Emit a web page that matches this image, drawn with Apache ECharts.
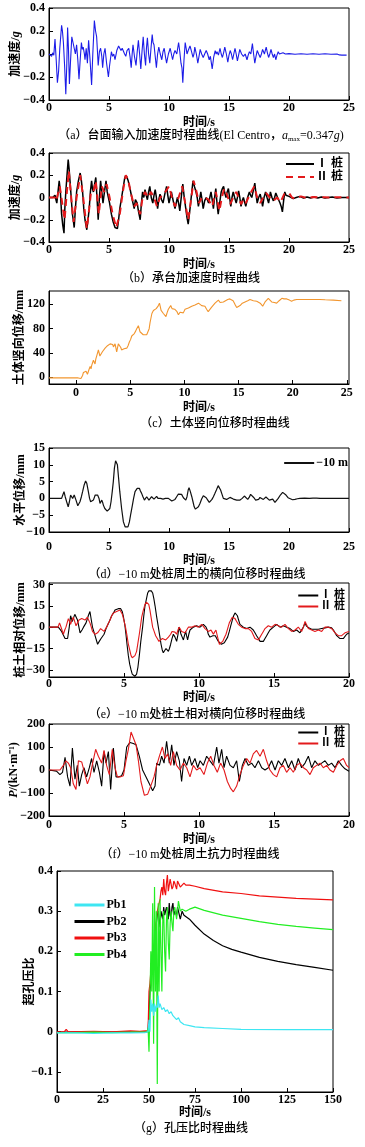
<!DOCTYPE html>
<html><head><meta charset="utf-8">
<script src="https://cdn.jsdelivr.net/npm/echarts@6/dist/echarts.min.js"></script>
<style>html,body{margin:0;padding:0;background:#fff}#c{width:365px;height:1147px}</style>
</head><body><div id="c"></div>
<script>
// ---------------- DATA ----------------
// (a) table input acceleration [t(s), a(g)]
const accInput = [[0,0],[0.15,0.005],[0.22,-0.02],[0.3,0.01],[0.4,-0.01],[0.5,0.13],[0.6,-0.05],[0.7,-0.25],[0.8,-0.15],[0.9,0.05],[1.05,0.25],[1.12,0.2],[1.2,0.1],[1.3,-0.1],[1.4,-0.35],[1.48,-0.1],[1.55,0.23],[1.62,0.05],[1.7,-0.26],[1.8,-0.05],[1.9,0.15],[2.0,0.1],[2.1,0.05],[2.2,0.0],[2.3,0.08],[2.4,-0.05],[2.5,-0.22],[2.6,-0.05],[2.7,0.1],[2.78,0.04],[2.85,0.06],[2.95,0.0],[3.0,-0.05],[3.1,0.05],[3.2,-0.08],[3.3,0.12],[3.42,-0.05],[3.55,-0.27],[3.65,0.0],[3.78,0.29],[3.88,0.2],[3.97,0.15],[4.05,0.0],[4.1,-0.1],[4.2,0.02],[4.3,0.05],[4.4,-0.02],[4.47,-0.12],[4.57,0.0],[4.67,0.05],[4.8,-0.08],[4.95,-0.2],[5.05,-0.1],[5.2,0.02],[5.3,-0.02],[5.4,0.0],[5.5,-0.05],[5.65,0.03],[5.8,0.07],[5.9,0.05],[6.0,0.03],[6.1,0.05],[6.2,0.06],[6.3,0.0],[6.4,-0.02],[6.5,0.03],[6.65,0.05],[6.75,-0.02],[6.85,-0.12],[6.93,0.0],[7.0,0.08],[7.12,-0.02],[7.25,-0.1],[7.35,0.02],[7.45,0.12],[7.55,0.0],[7.65,-0.13],[7.75,0.02],[7.85,0.15],[7.95,0.0],[8.05,-0.1],[8.12,0.05],[8.2,0.14],[8.3,0.0],[8.4,-0.08],[8.5,0.05],[8.6,0.17],[8.67,0.1],[8.75,0.08],[8.85,-0.02],[8.95,-0.12],[9.05,0.0],[9.15,0.06],[9.27,0.0],[9.4,-0.05],[9.5,0.02],[9.6,0.05],[9.7,-0.02],[9.8,-0.08],[9.95,0.0],[10.1,0.05],[10.2,0.0],[10.3,-0.05],[10.4,0.0],[10.5,0.03],[10.65,0.0],[10.8,0.1],[10.9,0.02],[11.0,-0.08],[11.08,-0.12],[11.15,-0.25],[11.25,-0.05],[11.35,0.1],[11.43,0.05],[11.5,0.0],[11.6,0.03],[11.75,0.07],[11.88,0.02],[12.0,-0.03],[12.08,0.0],[12.15,0.06],[12.28,0.0],[12.4,-0.08],[12.5,-0.02],[12.6,0.04],[12.72,0.0],[12.85,-0.03],[12.97,0.0],[13.1,0.03],[13.22,0.0],[13.35,-0.05],[13.45,-0.02],[13.6,-0.13],[13.72,-0.03],[13.85,0.03],[13.93,0.0],[14.0,0.02],[14.12,-0.01],[14.25,0.05],[14.35,0.0],[14.45,-0.03],[14.55,0.01],[14.65,0.06],[14.78,0.0],[14.9,-0.07],[15.0,-0.01],[15.1,0.03],[15.2,0.0],[15.3,-0.05],[15.4,0.0],[15.5,0.05],[15.6,0.0],[15.7,-0.06],[15.8,-0.01],[15.9,0.04],[16.05,0.0],[16.2,-0.02],[16.35,0.0],[16.5,-0.05],[16.6,-0.01],[16.7,0.02],[16.82,0.0],[16.95,0.09],[17.05,0.0],[17.15,-0.08],[17.25,-0.02],[17.35,0.03],[17.47,0.0],[17.6,-0.03],[17.7,0.0],[17.8,0.04],[17.95,0.0],[18.1,0.06],[18.2,0.01],[18.3,-0.03],[18.4,0.0],[18.5,0.04],[18.6,0.0],[18.7,-0.03],[18.8,0.0],[18.9,-0.05],[19.0,-0.01],[19.1,0.02],[19.2,0.0],[19.3,-0.01],[19.5,0.01],[19.7,0.0],[20,0.003],[20.5,-0.002],[21,0.002],[21.5,-0.002],[22,0.002],[22.5,-0.002],[23,0.002],[23.5,-0.002],[24,0.0],[24.2,-0.008],[24.4,-0.01],[24.8,-0.01]];

// (b) cap acceleration, pile I (black) and pile II (red dashed)
const capAccI = [[0,0],[0.3,0.0],[0.5,0.02],[0.58,-0.02],[0.65,-0.05],[0.75,0.05],[0.85,0.15],[0.95,0.05],[1.05,-0.15],[1.15,-0.25],[1.25,-0.32],[1.32,-0.1],[1.4,0.05],[1.5,0.2],[1.6,0.34],[1.68,0.25],[1.75,0.15],[1.85,0.0],[1.95,-0.15],[2.02,-0.2],[2.1,-0.27],[2.2,-0.1],[2.3,0.05],[2.45,0.15],[2.6,0.22],[2.7,0.15],[2.8,0.05],[2.9,-0.1],[3.0,-0.2],[3.15,-0.29],[3.25,-0.2],[3.35,-0.1],[3.45,0.05],[3.55,0.15],[3.62,0.08],[3.7,0.05],[3.8,0.12],[3.9,0.18],[4.0,0.0],[4.1,-0.2],[4.2,0.0],[4.3,0.15],[4.4,0.05],[4.5,-0.05],[4.62,0.05],[4.75,0.15],[4.85,0.05],[4.95,0.0],[5.05,-0.05],[5.2,-0.15],[5.35,-0.22],[5.5,-0.27],[5.7,-0.28],[5.8,-0.2],[5.9,-0.1],[6.05,0.0],[6.2,0.1],[6.3,0.17],[6.4,0.2],[6.5,0.18],[6.6,0.15],[6.75,0.08],[6.9,0.0],[7.0,-0.05],[7.1,-0.1],[7.2,-0.02],[7.35,-0.05],[7.45,-0.12],[7.6,-0.2],[7.7,-0.05],[7.8,0.05],[7.9,0.0],[8.0,0.07],[8.1,0.02],[8.2,-0.02],[8.3,0.05],[8.4,0.1],[8.52,0.0],[8.65,-0.05],[8.75,0.02],[8.85,0.07],[8.95,0.0],[9.05,-0.1],[9.15,-0.02],[9.25,0.03],[9.38,-0.02],[9.5,-0.05],[9.65,0.03],[9.8,0.1],[9.9,0.02],[10.0,-0.05],[10.1,0.0],[10.2,0.05],[10.35,-0.03],[10.5,-0.1],[10.6,-0.05],[10.7,0.0],[10.8,-0.05],[10.9,-0.12],[11.02,0.0],[11.15,0.12],[11.27,0.0],[11.4,-0.1],[11.5,-0.18],[11.6,-0.24],[11.7,-0.15],[11.8,-0.05],[11.9,0.05],[12.0,0.15],[12.12,0.1],[12.25,0.05],[12.35,0.0],[12.45,-0.08],[12.55,-0.02],[12.65,0.05],[12.75,-0.02],[12.85,-0.1],[12.97,-0.03],[13.1,0.0],[13.2,-0.02],[13.3,-0.05],[13.4,0.0],[13.5,0.05],[13.6,-0.02],[13.7,-0.1],[13.8,0.0],[13.9,0.08],[14.0,-0.05],[14.1,-0.15],[14.22,-0.05],[14.35,0.05],[14.45,0.08],[14.55,0.1],[14.65,0.04],[14.75,0.0],[14.85,0.05],[14.95,0.08],[15.05,0.0],[15.15,-0.08],[15.25,0.0],[15.35,0.05],[15.47,0.0],[15.6,-0.05],[15.7,0.0],[15.8,0.06],[15.9,0.0],[16.0,-0.08],[16.1,-0.03],[16.2,0.0],[16.3,-0.04],[16.4,-0.08],[16.55,0.0],[16.7,0.05],[16.8,0.02],[16.9,0.0],[17.02,0.06],[17.15,0.13],[17.25,0.03],[17.35,-0.05],[17.47,0.0],[17.6,0.03],[17.7,-0.02],[17.8,-0.08],[17.92,0.0],[18.05,0.05],[18.17,0.0],[18.3,-0.05],[18.38,0.0],[18.45,0.05],[18.58,0.0],[18.7,-0.03],[18.8,0.0],[18.9,0.04],[19.05,0.0],[19.25,-0.05],[19.35,-0.08],[19.45,-0.13],[19.55,-0.03],[19.65,0.05],[19.75,0.02],[19.85,0.03],[20.0,0.01],[20.1,0.0],[20.35,-0.01],[20.6,0.0],[20.9,0.01],[21.2,-0.005],[21.5,0.005],[21.8,-0.005],[22.1,0.005],[22.4,-0.005],[22.7,0.005],[23.0,-0.005],[23.3,0.0],[23.6,0.005],[24.0,-0.005],[24.4,0.0],[25,0]];
const capAccII = [[0,0],[0.5,0],[0.6,-0.03],[0.9,0.1],[1.1,-0.05],[1.3,-0.2],[1.45,0.0],[1.65,0.24],[1.85,0.0],[2.05,-0.22],[2.3,0.0],[2.6,0.2],[2.85,0.0],[3.15,-0.28],[3.35,-0.1],[3.5,0.05],[3.7,0.05],[3.9,0.15],[4.15,-0.15],[4.4,0.1],[4.6,0.05],[4.8,0.12],[5.05,0.0],[5.3,-0.15],[5.6,-0.27],[5.9,-0.15],[6.15,0.05],[6.4,0.2],[6.6,0.16],[6.8,0.05],[7.1,-0.08],[7.3,-0.05],[7.6,-0.15],[7.8,0.0],[8.0,0.05],[8.25,0.0],[8.5,0.05],[8.75,0.0],[9.0,-0.08],[9.25,0.0],[9.5,0.02],[9.75,0.06],[10.0,0.1],[10.25,0.0],[10.5,-0.08],[10.8,0.0],[11.1,0.1],[11.35,-0.05],[11.6,-0.2],[11.8,-0.05],[12.05,0.15],[12.3,0.05],[12.5,-0.05],[12.75,0.0],[13.0,0.0],[13.3,-0.02],[13.6,-0.08],[13.9,0.05],[14.2,-0.12],[14.4,0.0],[14.6,0.08],[14.85,0.02],[15.1,-0.06],[15.35,0.0],[15.6,0.05],[15.8,0.0],[16.0,-0.06],[16.2,-0.02],[16.4,-0.05],[16.75,0.03],[17.1,0.1],[17.35,0.0],[17.6,-0.05],[17.85,0.0],[18.1,0.04],[18.4,0.0],[18.7,-0.03],[19.0,0.0],[19.3,-0.04],[19.6,0.03],[20.0,0.04],[20.25,0.0],[20.5,-0.01],[20.75,0.0],[21.0,0.01],[21.5,-0.005],[22,0.005],[22.5,0],[23,0.003],[23.5,0],[24,0.002],[25,0]];

// (c) soil vertical displacement [t, mm]
const soilVert = [[-2.5,-1],[0.2,-1],[0.3,1],[0.37,2],[0.45,-2],[0.52,-4],[0.6,3],[0.68,8],[0.8,6],[0.92,10],[1.05,5],[1.18,12],[1.3,18],[1.38,14],[1.45,20],[1.52,17],[1.6,28],[1.68,25],[1.75,22],[1.82,30],[1.9,35],[1.98,32],[2.06,45],[2.13,40],[2.2,35],[2.3,38],[2.43,42],[2.55,40],[2.68,48],[2.8,47],[2.9,52],[3.0,50],[3.14,55],[3.22,52],[3.3,58],[3.38,54],[3.45,50],[3.52,53],[3.6,55],[3.68,48],[3.75,42],[3.82,48],[3.9,55],[3.98,54],[4.06,52],[4.13,49],[4.2,45],[4.3,46],[4.43,47],[4.55,45],[4.68,48],[4.8,52],[4.92,58],[5.03,62],[5.14,68],[5.26,70],[5.38,72],[5.5,76],[5.6,80],[5.68,83],[5.75,85],[5.83,80],[5.9,75],[6.05,72],[6.2,70],[6.35,71],[6.52,70],[6.6,71],[6.68,72],[6.75,80],[6.83,90],[6.92,98],[7.0,105],[7.07,108],[7.14,110],[7.22,109],[7.3,110],[7.4,113],[7.5,115],[7.6,118],[7.7,122],[7.78,116],[7.85,110],[7.95,108],[8.06,105],[8.18,102],[8.3,100],[8.4,106],[8.52,112],[8.63,115],[8.74,118],[8.86,113],[9.0,110],[9.1,112],[9.2,114],[9.32,108],[9.45,103],[9.6,107],[9.75,110],[9.9,106],[10.06,112],[10.2,110],[10.37,114],[10.5,112],[10.68,117],[10.82,115],[10.98,119],[11.12,117],[11.3,122],[11.45,120],[11.6,118],[11.75,119],[11.9,117],[12.05,112],[12.2,108],[12.35,110],[12.5,115],[12.65,118],[12.83,122],[12.98,124],[13.14,127],[13.3,123],[13.45,120],[13.6,124],[13.75,126],[14.0,128],[14.2,129],[14.35,128],[14.5,126],[14.67,120],[14.83,115],[15.0,116],[15.14,118],[15.35,122],[15.6,124],[15.85,126],[16.06,128],[16.2,127],[16.37,126],[16.52,128],[16.68,125],[16.85,124],[17.0,122],[17.12,120],[17.23,117],[17.35,120],[17.45,124],[17.6,127],[17.75,130],[17.9,127],[18.06,124],[18.3,123],[18.52,122],[18.75,126],[19.0,130],[19.2,129],[19.45,129],[19.7,127],[19.9,125],[20.1,127],[20.37,128],[20.8,128],[21.3,128],[22.0,128],[22.5,128],[23.0,127.5],[23.75,127],[24.5,126]];

// (d) soil lateral displacement at -10 m [t, mm]
const soilLat = [[0,0],[0.5,0],[1.05,0],[1.15,1],[1.25,2],[1.35,0.5],[1.47,-1],[1.6,-2.5],[1.7,-1],[1.8,1],[1.88,0.5],[1.97,0],[2.1,1],[2.18,0.5],[2.25,-0.5],[2.4,-2.2],[2.58,-1],[2.7,0.5],[2.8,2],[2.93,4],[3.05,5.2],[3.15,4.5],[3.28,2],[3.38,0],[3.47,-1],[3.6,-1],[3.7,-0.5],[3.85,1],[3.97,1.5],[4.05,1],[4.1,1.3],[4.17,0],[4.25,-1.5],[4.32,-1],[4.4,-0.5],[4.47,-1.2],[4.53,-2],[4.65,-3],[4.75,-3.5],[4.85,-3.8],[4.95,-4],[5.07,-3],[5.17,-1],[5.27,2],[5.36,5],[5.45,9],[5.55,11.2],[5.62,11],[5.7,10],[5.8,6],[5.9,2],[6.05,-3],[6.2,-7],[6.35,-8.5],[6.47,-9],[6.58,-8.5],[6.7,-7],[6.82,-4.5],[6.95,-2],[7.05,0],[7.17,2],[7.35,3],[7.45,3.2],[7.53,3],[7.62,2.2],[7.72,1.5],[7.83,0.5],[7.95,-0.5],[8.05,0],[8.14,0.5],[8.23,0],[8.33,-0.5],[8.43,0],[8.55,0.5],[8.65,0.2],[8.75,-0.2],[8.87,0.3],[8.97,0.6],[9.08,0],[9.2,-0.5],[9.3,0],[9.4,0.3],[9.5,-0.2],[9.6,-0.5],[9.7,0],[9.8,0.4],[9.95,0],[10.1,-0.5],[10.23,-0.8],[10.36,-1],[10.5,-0.3],[10.64,0.5],[10.78,1.3],[10.9,1.8],[11.05,1.2],[11.2,0.2],[11.3,-0.2],[11.4,-0.5],[11.5,0.5],[11.6,2.5],[11.67,3.2],[11.78,2],[11.9,0.5],[12.0,-1],[12.1,-2.5],[12.2,-3.2],[12.3,-3.3],[12.45,-2.5],[12.58,-1.5],[12.72,-0.2],[12.86,0.8],[12.98,0.5],[13.1,0.2],[13.23,-0.5],[13.36,-1.2],[13.47,-0.8],[13.58,-0.3],[13.7,0.5],[13.83,1.5],[13.95,2.5],[14.1,3.8],[14.2,3.5],[14.3,2.5],[14.42,1.2],[14.53,0],[14.65,-0.2],[14.8,-0.3],[14.95,0.1],[15.08,0.3],[15.22,0],[15.36,-0.2],[15.5,-0.3],[15.64,-0.5],[15.78,-0.4],[15.92,-0.5],[16.1,0],[16.28,0.7],[16.42,0.2],[16.56,-0.3],[16.68,0.3],[16.8,1.2],[16.95,0.8],[17.08,0.2],[17.22,-0.5],[17.36,-1],[17.47,-0.3],[17.58,0.3],[17.72,0],[17.86,-0.3],[17.97,0],[18.08,0.4],[18.22,0],[18.36,-0.5],[18.5,-0.3],[18.64,-0.2],[18.74,-0.7],[18.83,-1.2],[18.97,-0.8],[19.1,0],[19.28,1],[19.47,1.8],[19.6,1.5],[19.75,1],[19.92,0.2],[20.08,-0.3],[20.3,-0.4],[20.5,-0.3],[20.7,-0.1],[20.9,0],[21.3,0.1],[21.7,0],[22.0,0.1],[22.3,0.1],[22.58,0],[23,0],[23.7,0],[24.3,0],[25,0]];

// (e) pile-soil relative lateral displacement at -10 m [t, mm]
const relDispI = [[0,0],[0.62,0],[0.84,-3],[1.07,-8],[1.24,-8],[1.35,0],[1.44,8],[1.55,4],[1.62,5],[1.72,9],[1.8,10],[1.9,5],[1.96,2],[2.07,-4],[2.2,-2],[2.3,0],[2.47,3],[2.62,8],[2.73,11],[2.82,5],[2.9,0],[3.07,-6],[3.24,-12],[3.35,-10],[3.47,-8],[3.57,-7],[3.67,-5],[3.84,0],[4.02,4],[4.18,8],[4.3,10],[4.4,12],[4.62,13],[4.78,13],[4.88,11],[4.95,8],[5.05,2],[5.13,-5],[5.2,-12],[5.29,-20],[5.38,-26],[5.47,-30],[5.55,-33],[5.62,-34],[5.72,-34.5],[5.84,-33],[5.93,-28],[6.02,-20],[6.12,-10],[6.24,0],[6.32,8],[6.4,15],[6.5,20],[6.58,24],[6.66,25.5],[6.73,26],[6.82,25.5],[6.91,24],[6.99,20],[7.07,15],[7.18,7],[7.29,0],[7.38,-6],[7.47,-12],[7.55,-16],[7.62,-18],[7.7,-17],[7.8,-15],[7.88,-16],[7.96,-17],[8.03,-15],[8.11,-12],[8.2,-8],[8.29,-5],[8.4,-7],[8.51,-10],[8.6,-5],[8.67,0],[8.73,-2],[8.8,-5],[8.88,-7],[8.96,-9],[9.03,-6],[9.11,-3],[9.17,-6],[9.24,-9],[9.32,-5],[9.4,-2],[9.5,-1],[9.62,0],[9.73,0.5],[9.84,1],[9.95,0.5],[10.07,0],[10.18,1],[10.29,2],[10.38,1],[10.47,0],[10.55,-2],[10.62,-5],[10.73,-7],[10.84,-8],[10.92,-6],[11.0,-5],[11.09,-6],[11.18,-8],[11.29,-10],[11.4,-11],[11.49,-12],[11.58,-12],[11.69,-11],[11.8,-10],[11.91,-7],[12.02,-3],[12.12,1],[12.22,5],[12.31,8],[12.4,10],[12.48,9.5],[12.56,8],[12.64,5],[12.73,2],[12.84,1],[12.96,0],[13.07,-0.5],[13.18,-1],[13.29,-0.5],[13.4,0],[13.51,-1],[13.62,-2],[13.73,-4],[13.84,-6],[13.96,-8],[14.07,-10],[14.18,-10.5],[14.29,-10],[14.4,-8],[14.51,-6],[14.62,-4],[14.73,-2],[14.84,-1],[14.96,0],[15.07,1],[15.18,2],[15.29,1],[15.4,0],[15.51,0.5],[15.62,1],[15.73,0.5],[15.84,0],[15.96,-0.5],[16.07,-1],[16.18,-2],[16.29,-3],[16.4,-2.5],[16.51,-2],[16.62,-3],[16.73,-4],[16.84,-2],[16.96,0],[17.07,3],[17.15,1],[17.22,0],[17.31,-0.5],[17.4,-1],[17.51,-1.5],[17.62,-2],[17.73,-1.5],[17.84,-1],[17.96,-1.5],[18.07,-2],[18.18,-1],[18.29,0],[18.4,-0.5],[18.51,-1],[18.62,0],[18.73,1],[18.84,-0.5],[18.96,-2],[19.07,-4],[19.18,-6],[19.29,-7],[19.4,-8],[19.51,-8.2],[19.62,-8],[19.73,-7],[19.84,-5],[19.92,-4.5],[20,-4]];
const relDispII = [[0,0],[0.6,0],[0.7,3],[0.77,1],[0.84,0],[0.96,-5],[1.05,-2],[1.13,0],[1.21,3],[1.29,6],[1.37,4],[1.44,2],[1.53,5],[1.62,7],[1.71,4],[1.8,1],[1.9,3],[2.0,5],[2.09,5.5],[2.18,6],[2.29,5.5],[2.4,5],[2.48,6],[2.56,7],[2.64,5],[2.73,3],[2.82,0],[2.9,-3],[2.98,-4],[3.07,-5],[3.16,-4.5],[3.24,-4],[3.34,-2.5],[3.44,-1],[3.55,-2],[3.67,-3],[3.75,-1.5],[3.84,0],[3.95,2.5],[4.07,5],[4.18,8],[4.29,10],[4.4,10.5],[4.51,11],[4.62,11.5],[4.73,12],[4.81,11],[4.89,9],[4.99,5],[5.1,0],[5.2,-6],[5.29,-12],[5.38,-16],[5.47,-20],[5.55,-21.5],[5.62,-22],[5.73,-20],[5.84,-17],[5.93,-11],[6.02,-5],[6.1,1],[6.18,7],[6.29,12],[6.4,16],[6.49,17.5],[6.58,18],[6.65,16],[6.73,12],[6.82,6],[6.91,0],[7.01,-3],[7.11,-6],[7.22,-8],[7.33,-10],[7.44,-9.5],[7.56,-8],[7.67,-8.5],[7.78,-9],[7.87,-8],[7.96,-7],[8.03,-6],[8.11,-5],[8.2,-3],[8.29,-2],[8.4,-3.5],[8.51,-5],[8.6,-2],[8.67,0],[8.76,-1.5],[8.84,-3],[8.96,-3.5],[9.07,-4],[9.18,-2],[9.29,0],[9.4,0],[9.51,0],[9.62,0.5],[9.73,1],[9.84,0.5],[9.96,0],[10.07,1],[10.18,2],[10.29,0.5],[10.4,-1],[10.51,-2],[10.62,-3],[10.71,-2.5],[10.8,-2],[10.88,-3.5],[10.96,-5],[11.04,-3.5],[11.13,-2],[11.24,-7],[11.36,-12],[11.47,-11],[11.58,-10],[11.69,-7.5],[11.8,-5],[11.91,-1],[12.02,3],[12.12,5],[12.22,7],[12.31,6.5],[12.4,6],[12.51,4],[12.62,2],[12.73,1],[12.84,0],[12.96,-0.5],[13.07,-1],[13.18,-1],[13.29,-1],[13.4,-2],[13.51,-3],[13.62,-5.5],[13.73,-8],[13.84,-8.5],[13.96,-9],[14.07,-7],[14.18,-5],[14.29,-3],[14.4,-1],[14.51,0],[14.62,1],[14.73,0.5],[14.84,0],[14.96,1],[15.07,2],[15.18,1.5],[15.29,1],[15.4,0.5],[15.51,0],[15.62,1],[15.73,2],[15.84,0.5],[15.96,-1],[16.07,-2],[16.18,-3],[16.29,-2.5],[16.4,-2],[16.51,-1],[16.62,0],[16.73,-1.5],[16.84,-3],[16.96,0],[17.07,4],[17.18,1.5],[17.29,-1],[17.4,-1.5],[17.51,-2],[17.62,-2.5],[17.73,-3],[17.84,-2.5],[17.96,-2],[18.07,-2.5],[18.18,-3],[18.29,-1.5],[18.4,0],[18.51,0],[18.62,0],[18.73,-0.5],[18.84,-1],[18.96,-2.5],[19.07,-4],[19.18,-5],[19.29,-6],[19.4,-6],[19.51,-6],[19.62,-5],[19.73,-4],[19.84,-3.5],[20,-3]];

// (f) soil resistance at -10 m [t, kN/m]
const resistI = [[0,0],[0.5,-5],[0.6,-5],[0.73,-20],[0.9,-10],[1.07,55],[1.24,-30],[1.4,-70],[1.56,95],[1.73,-40],[1.89,20],[2.02,-70],[2.18,-20],[2.33,10],[2.51,-30],[2.69,10],[2.84,50],[3.0,-10],[3.18,40],[3.36,-10],[3.51,-70],[3.67,80],[3.8,30],[3.96,80],[4.11,-85],[4.29,95],[4.47,-30],[4.62,-30],[4.84,-25],[5.0,0],[5.18,100],[5.4,120],[5.62,115],[5.8,110],[6.02,60],[6.24,0],[6.47,-30],[6.69,-60],[6.91,-90],[7.07,-70],[7.18,30],[7.36,20],[7.51,60],[7.67,30],[7.84,125],[8.02,30],[8.18,110],[8.33,20],[8.51,80],[8.69,40],[8.84,-50],[9.0,50],[9.18,20],[9.36,60],[9.51,20],[9.73,50],[9.91,10],[10.07,40],[10.29,20],[10.51,60],[10.73,40],[10.96,20],[11.18,100],[11.33,30],[11.51,90],[11.67,10],[11.84,60],[12.07,20],[12.29,10],[12.51,40],[12.69,-50],[12.89,20],[13.07,50],[13.29,20],[13.51,30],[13.73,10],[13.96,40],[14.18,10],[14.4,0],[14.62,10],[14.84,40],[15.07,0],[15.29,40],[15.51,20],[15.73,50],[15.96,10],[16.18,40],[16.4,0],[16.62,50],[16.84,10],[17.07,30],[17.29,60],[17.51,10],[17.73,40],[17.96,20],[18.18,30],[18.4,40],[18.62,20],[18.84,30],[19.07,10],[19.29,40],[19.51,20],[19.73,5],[20,-5]];
const resistII = [[0,0],[0.73,0],[0.96,20],[1.13,40],[1.29,30],[1.44,10],[1.62,-60],[1.8,-85],[1.96,40],[2.18,35],[2.4,-20],[2.56,-60],[2.73,-30],[2.91,30],[3.11,90],[3.29,60],[3.51,30],[3.67,85],[3.84,20],[4.02,-20],[4.22,90],[4.4,10],[4.56,-30],[4.73,-30],[4.96,-25],[5.13,40],[5.29,90],[5.47,165],[5.62,140],[5.8,110],[5.96,40],[6.13,-50],[6.36,-110],[6.58,-105],[6.78,-70],[7.0,-30],[7.18,20],[7.36,60],[7.56,100],[7.73,50],[7.91,70],[8.11,20],[8.29,80],[8.51,20],[8.73,0],[8.96,30],[9.18,10],[9.4,-30],[9.62,20],[9.84,0],[10.07,10],[10.33,-20],[10.56,30],[10.78,60],[11.0,20],[11.22,-10],[11.44,30],[11.67,0],[11.89,-50],[12.11,-80],[12.29,-95],[12.51,-70],[12.73,-20],[12.96,20],[13.18,50],[13.4,30],[13.62,70],[13.84,85],[14.07,60],[14.29,90],[14.51,40],[14.73,0],[14.96,-20],[15.18,-30],[15.4,10],[15.62,20],[15.84,-10],[16.07,10],[16.29,-10],[16.51,20],[16.73,30],[16.96,10],[17.18,0],[17.4,-20],[17.62,10],[17.84,20],[18.07,30],[18.29,10],[18.51,20],[18.73,0],[18.96,-10],[19.18,20],[19.4,40],[19.62,50],[19.84,20],[20,10]];

// (g) excess pore pressure ratio [t, ratio]
const pb1 = [[0,-0.003],[10,-0.003],[20,-0.004],[30,-0.003],[40,-0.003],[48,-0.002],[49.5,0.0],[50,0.03],[50.5,0.0],[51,0.08],[51.5,0.05],[52,0.07],[52.5,0.04],[53,0.07],[53.5,0.05],[54,0.065],[54.5,0.06],[55,0.09],[55.5,0.06],[56,0.07],[57,0.055],[58,0.06],[59,0.05],[60,0.055],[61,0.045],[62,0.05],[63,0.04],[64,0.042],[65,0.03],[66,0.035],[67,0.025],[68,0.027],[69,0.018],[70,0.02],[72,0.015],[75,0.012],[80,0.01],[90,0.008],[100,0.006],[125,0.005],[150,0.005]];
const pb2 = [[0,-0.001],[49.5,0.0],[50,0.05],[50.5,0.1],[51,0.12],[51.5,0.15],[52,0.2],[52.5,0.18],[53,0.22],[53.5,0.25],[54,0.27],[54.5,0.29],[55,0.3],[55.5,0.28],[56,0.26],[56.5,0.3],[57,0.3],[57.5,0.28],[58,0.31],[58.5,0.29],[59,0.29],[59.5,0.31],[60,0.3],[60.5,0.28],[61,0.32],[61.5,0.29],[62,0.28],[62.5,0.31],[63,0.32],[63.5,0.29],[64,0.3],[65,0.29],[65.5,0.31],[66,0.3],[67,0.28],[68,0.3],[69,0.29],[70,0.29],[72,0.28],[75,0.265],[80,0.243],[85,0.227],[90,0.214],[95,0.205],[100,0.198],[110,0.185],[120,0.175],[130,0.167],[140,0.16],[150,0.153]];
const pb3 = [[0,0],[4,0.0],[5,0.006],[6,0.0],[20,0.001],[30,0.0],[40,0.002],[45,0.001],[49.5,0.003],[50,0.1],[50.5,0.12],[51,0.15],[51.5,0.18],[52,0.2],[52.5,0.21],[53,0.22],[53.5,0.26],[54,0.28],[54.5,0.3],[55,0.3],[55.5,0.32],[56,0.33],[56.5,0.35],[57,0.36],[57.5,0.34],[58,0.38],[58.5,0.35],[59,0.34],[59.5,0.37],[60,0.39],[60.5,0.35],[61,0.35],[61.5,0.38],[62,0.38],[62.5,0.355],[63,0.36],[63.5,0.375],[64,0.37],[65,0.355],[65.5,0.375],[66,0.375],[67,0.36],[68,0.36],[69,0.37],[70,0.365],[72,0.365],[75,0.362],[80,0.356],[90,0.348],[100,0.344],[110,0.338],[120,0.335],[130,0.332],[140,0.33],[150,0.328]];
const pb4 = [[0,-0.002],[10,-0.002],[20,-0.001],[30,-0.002],[40,-0.001],[49,0.0],[49.5,0.01],[50,-0.05],[50.5,0.07],[51,0.2],[51.5,0.1],[52,0.32],[52.5,-0.03],[53,0.36],[53.5,0.1],[54,0.3],[54.5,-0.13],[55,0.32],[55.5,0.1],[56,0.33],[56.5,0.2],[57,0.1],[57.5,0.28],[58,0.3],[58.5,0.2],[59,0.15],[59.5,0.28],[60,0.31],[60.5,0.22],[61,0.18],[61.5,0.27],[62,0.3],[62.5,0.27],[63,0.25],[63.5,0.3],[64,0.31],[65,0.28],[66,0.325],[67,0.3],[68,0.305],[70,0.3],[72,0.305],[75,0.31],[80,0.302],[90,0.29],[100,0.282],[110,0.274],[120,0.267],[130,0.262],[140,0.258],[150,0.254]];

// tick labels
const ticksC_X = [0,5,10,15,20,25];
const ticksC_Y = [0,40,80,120];
const ticksE_Y = [-30,-15,0,15,30];
const ticksG_Y = [-0.1,0,0.1,0.2,0.3,0.4];

// ---------------- CHART ----------------
const FF = "'Liberation Serif','Noto Sans CJK SC',serif";
const fmt = v => String(Math.round(v*1000)/1000).replace('-', '\u2212');
const chart = echarts.init(document.getElementById('c'), null, {renderer:'canvas'});

const panels = [
  {left:49, right:16, top:8,   height:92, xMin:0, xMax:25, xInt:5, yMin:-0.4, yMax:0.4, yInt:0.2, xm:2, xg:17, yName:'加速度/{i|g}', yGap:27},
  {left:49, right:16, top:153, height:89, xMin:0, xMax:25, xInt:5, yMin:-0.4, yMax:0.4, yInt:0.2, xm:2, xg:17, yName:'加速度/{i|g}', yGap:27},
  {left:49, right:16, top:291, height:93, xMin:-2.5, xMax:25.2, xCustom:ticksC_X, yMin:-11, yMax:142, yCustom:ticksC_Y, xm:3, xg:18, yName:'土体竖向位移/mm', yGap:23},
  {left:49, right:16, top:448, height:84, xMin:0, xMax:25, xInt:5, yMin:-10, yMax:15, yInt:5, xm:9, xg:23, yName:'水平位移/mm', yGap:22},
  {left:49, right:16, top:583, height:94, xMin:0, xMax:20, xInt:5, yMin:-35, yMax:31, yCustom:ticksE_Y, xm:1, xg:15, yName:'桩土相对位移/mm', yGap:22},
  {left:49, right:16, top:724, height:92, xMin:0, xMax:20, xInt:5, yMin:-200, yMax:200, yInt:100, xm:3, xg:18, yName:'{i|P}/(kN·m\u207B\u00B9)', yGap:29},
  {left:57, right:32, top:871, height:221, xMin:0, xMax:150, xInt:25, yMin:-0.15, yMax:0.4, yCustom:ticksG_Y, xm:2, xg:15, yName:'超孔压比', yGap:21}
];

const txt = {color:'#000', fontFamily:FF, fontSize:12};
const rich = {i:{fontStyle:'italic', fontFamily:FF, fontSize:12, color:'#000', fontWeight:'bold'}};

const grids = [], xAxes = [], yAxes = [];
panels.forEach((p, i) => {
  grids.push({left:p.left, right:p.right, top:p.top, height:p.height, show:true, borderColor:'#000', borderWidth:1, containLabel:false});
  const xa = {type:'value', gridIndex:i, min:p.xMin, max:p.xMax,
    axisLine:{show:true, onZero:false, lineStyle:{color:'#000', width:1}},
    axisTick:{show:true, inside:true, length:4, lineStyle:{color:'#000'}},
    axisLabel:{...txt, fontWeight:'bold', margin:p.xm, formatter:fmt, showMinLabel:true, showMaxLabel:true},
    splitLine:{show:false},
    name:'时间/s', nameLocation:'middle', nameGap:p.xg, nameMoveOverlap:false, nameTextStyle:{...txt, fontWeight:'bold'}};
  if (p.xCustom) { xa.axisLabel.customValues = p.xCustom; xa.axisTick.customValues = p.xCustom; }
  else xa.interval = p.xInt;
  xAxes.push(xa);
  const ya = {type:'value', gridIndex:i, min:p.yMin, max:p.yMax,
    axisLine:{show:true, onZero:false, lineStyle:{color:'#000', width:1}},
    axisTick:{show:true, inside:true, length:4, lineStyle:{color:'#000'}},
    axisLabel:{...txt, fontWeight:'bold', margin:4, formatter:fmt, showMinLabel:true, showMaxLabel:true},
    splitLine:{show:false},
    name:p.yName, nameLocation:'middle', nameRotate:90, nameGap:p.yGap, nameMoveOverlap:false, nameTextStyle:{...txt, fontWeight:'bold', rich}};
  if (p.yCustom) { ya.axisLabel.customValues = p.yCustom; ya.axisTick.customValues = p.yCustom; }
  else ya.interval = p.yInt;
  yAxes.push(ya);
});

const LN = {bI:'Ⅰ 桩', bII:'Ⅱ 桩', d:'\u221210 m', eI:'Ⅰ 桩', eII:'Ⅱ 桩', fI:'Ⅰ 桩', fII:'Ⅱ 桩', g1:'Pb1', g2:'Pb2', g3:'Pb3', g4:'Pb4'};
const ln = (name, gi, data, color, width, extra) => Object.assign({
  name, type:'line', xAxisIndex:gi, yAxisIndex:gi, data, symbol:'none', showSymbol:false,
  color, lineStyle:{color, width}, animation:false, silent:true, z:2}, extra || {});

const RED = '#e31a1c', BLUE = '#1c1ce8', ORANGE = '#f2962f';
const series = [
  ln('a', 0, accInput, BLUE, 1.1),
  ln('bI', 1, capAccI, '#000', 1.5),
  ln('bII', 1, capAccII, RED, 2, {lineStyle:{color:RED, width:2, type:[7,5]}}),
  ln('c', 2, soilVert, ORANGE, 1.1),
  ln('d', 3, soilLat, '#111', 1.2),
  ln('eI', 4, relDispI, '#000', 1.1),
  ln('eII', 4, relDispII, RED, 1.1),
  ln('fI', 5, resistI, '#000', 1.1),
  ln('fII', 5, resistII, RED, 1.1),
  ln('g2', 6, pb2, '#000', 1.2),
  ln('g3', 6, pb3, '#f01010', 1.2),
  ln('g4', 6, pb4, '#22ee22', 1.2),
  ln('g1', 6, pb1, '#3ee6f2', 1.2)
];

const lg = (data, pos, w, h, gap, fs, lw) => Object.assign({
  data, orient:'vertical', selectedMode:false, itemWidth:w, itemHeight:h, itemGap:gap,
  itemStyle:{opacity:0, borderWidth:0},
  lineStyle:lw ? {width:lw} : {},
  textStyle:{color:'#000', fontFamily:FF, fontSize:fs, fontWeight:'bold', padding:[0,0,0,-3]},
  formatter:n => LN[n], padding:0}, pos);

const legends = [
  lg(['bI','bII'], {right:22, top:158}, 28, 10, 1, 12),
  lg(['d'], {right:17, top:457}, 30, 12, 0, 12),
  lg(['eI','eII'], {right:20, top:590}, 20, 10, 0, 11),
  lg(['fI','fII'], {right:20, top:727}, 20, 10, 0, 11),
  lg(['g1','g2','g3','g4'], {left:73, top:899}, 30, 14, 4.5, 12, 3)
];

const cap = (x, y, text) => ({type:'text', x, y, silent:true,
  style:{text, fill:'#000', font:"500 12px 'Liberation Serif','Noto Sans CJK SC',serif", textAlign:'center', textVerticalAlign:'middle',
    rich:{i:{fontStyle:'italic', fontSize:12, fontFamily:FF, fill:'#000'}, s:{fontSize:7, fontFamily:FF, fill:'#000', padding:[6,0,0,0]}}}});

const graphics = [
  cap(201, 136, '（a）台面输入加速度时程曲线(El Centro，{i|a}{s|max}=0.347{i|g})'),
  cap(191, 279, '（b）承台加速度时程曲线'),
  cap(215, 424, '（c）土体竖向位移时程曲线'),
  cap(197, 575, '（d）\u221210 m处桩周土的横向位移时程曲线'),
  cap(197, 715, '（e）\u221210 m处桩土相对横向位移时程曲线'),
  cap(190, 855, '（f）\u221210 m处桩周土抗力时程曲线'),
  cap(191, 1129, '（g）孔压比时程曲线')
];

chart.setOption({
  animation:false,
  backgroundColor:'#fff',
  grid:grids, xAxis:xAxes, yAxis:yAxes, series, legend:legends, graphic:graphics
});
</script>
</body></html>
